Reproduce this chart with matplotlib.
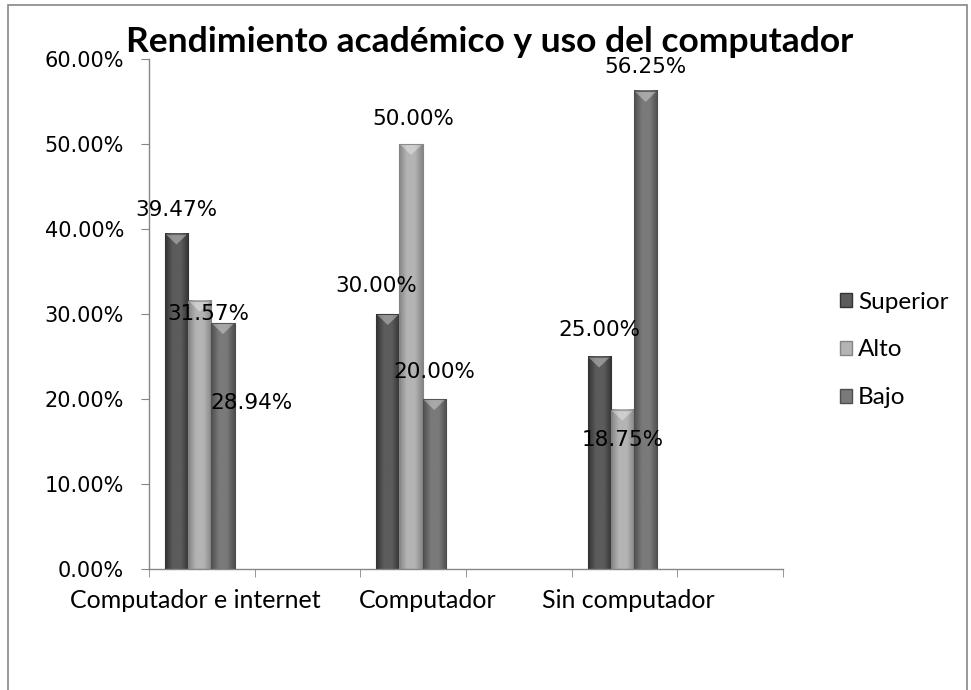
import matplotlib
matplotlib.use('agg')
import matplotlib.pyplot as plt
import matplotlib.patches as mpatches
from matplotlib.colors import LinearSegmentedColormap
import numpy as np

categories = ['Computador e internet', 'Computador', 'Sin computador']
series = ['Superior', 'Alto', 'Bajo']
superior = [39.47, 30.00, 25.00]
alto = [31.57, 50.00, 18.75]
bajo = [28.94, 20.00, 56.25]
labels = [['39.47%', '30.00%', '25.00%'],
          ['31.57%', '50.00%', '18.75%'],
          ['28.94%', '20.00%', '56.25%']]

# (edge, centre) shades for the cylinder look
shades = [('#333333', '#5c5c5c'), ('#858585', '#b4b4b4'), ('#4e4e4e', '#7a7a7a')]
# label offsets in pixels from the top of each bar (Excel placed them oddly)
label_off = [[(0, 24), (-12, 28), (0, 26)],
             [(9, -13), (2, 25), (0, -30)],
             [(29, -80), (0, 27), (0, 24)]]
# category label nudges in pixels
cat_off = [-7, 15, 4]

FONT_NARROW = ['Lato', 'DejaVu Sans']

fig = plt.figure(figsize=(9.71, 6.90), dpi=100)
ax = fig.add_axes([149 / 971, 1 - 569 / 690, 634 / 971, 510 / 690])

# outer chart frame
fig.patches.append(mpatches.Rectangle((8 / 971, -0.05), 959 / 971, 1 - 5 / 690 + 0.05,
                                      transform=fig.transFigure, fill=False,
                                      edgecolor='#868686', linewidth=1.2))

xpos = np.arange(len(categories)) * 2 - 0.02
w = 0.22
values = [superior, alto, bajo]
for s, vals in enumerate(values):
    cmap = LinearSegmentedColormap.from_list('c%d' % s, [shades[s][0], shades[s][1], shades[s][1], shades[s][0]])
    grad = np.linspace(0, 1, 64).reshape(1, -1)
    for i, v in enumerate(vals):
        x0 = xpos[i] + (s - 1) * w - w / 2
        ax.imshow(grad, cmap=cmap, extent=(x0, x0 + w, 0, v), aspect='auto', zorder=2,
                  interpolation='bilinear')
        ax.add_patch(mpatches.Rectangle((x0, 0), w, v, fill=False, edgecolor=shades[s][0],
                                        linewidth=0.8, zorder=3))
        # small chevron at the top of the column
        tri = mpatches.Polygon([(x0 + 0.01, v - 0.1), (x0 + w - 0.01, v - 0.1), (x0 + w / 2, v - 1.3)],
                               closed=True, facecolor='white', alpha=0.35, edgecolor='none', zorder=4)
        ax.add_patch(tri)
        dx, dy = label_off[s][i]
        ax.annotate(labels[s][i], (x0 + w / 2, v), xytext=(dx, dy), textcoords='offset pixels',
                    ha='center', va='center', fontsize=15.5, color='#000000', zorder=6)

ax.set_xlim(-0.5, 5.5)
ax.set_ylim(0, 60)
ax.set_yticks(np.arange(0, 61, 10))
ax.set_yticklabels(['%.2f%%' % t for t in np.arange(0, 61, 10)], fontsize=15)
ax.set_xticks(np.arange(-0.5, 6, 1), minor=True)
ax.set_xticks([])
ax.tick_params(axis='x', which='minor', length=6, color='#868686', direction='out')
ax.tick_params(axis='y', length=6, color='#868686', direction='out', pad=12)
for sp in ['top', 'right']:
    ax.spines[sp].set_visible(False)
for sp in ['left', 'bottom']:
    ax.spines[sp].set_color('#868686')
    ax.spines[sp].set_linewidth(1.0)

for i, c in enumerate(categories):
    ax.annotate(c, (xpos[i] + 0.02, 0), xytext=(cat_off[i], -31), textcoords='offset pixels',
                ha='center', va='center', fontsize=18, family=FONT_NARROW)

fig.text(490 / 971, 1 - 52 / 690, 'Rendimiento académico y uso del computador',
         ha='center', va='baseline', fontsize=25.5, fontweight='bold', family=FONT_NARROW)

handles = [mpatches.Patch(facecolor=shades[s][1], edgecolor=shades[s][0], label=series[s])
           for s in range(3)]
leg = fig.legend(handles=handles, loc='center left', bbox_to_anchor=(818 / 971, 1 - 350 / 690),
                 frameon=False, prop={'family': FONT_NARROW, 'size': 17.5},
                 handlelength=0.5, handleheight=0.5, handletextpad=0.25, labelspacing=1.1)

plt.savefig('out.png', dpi=100)
